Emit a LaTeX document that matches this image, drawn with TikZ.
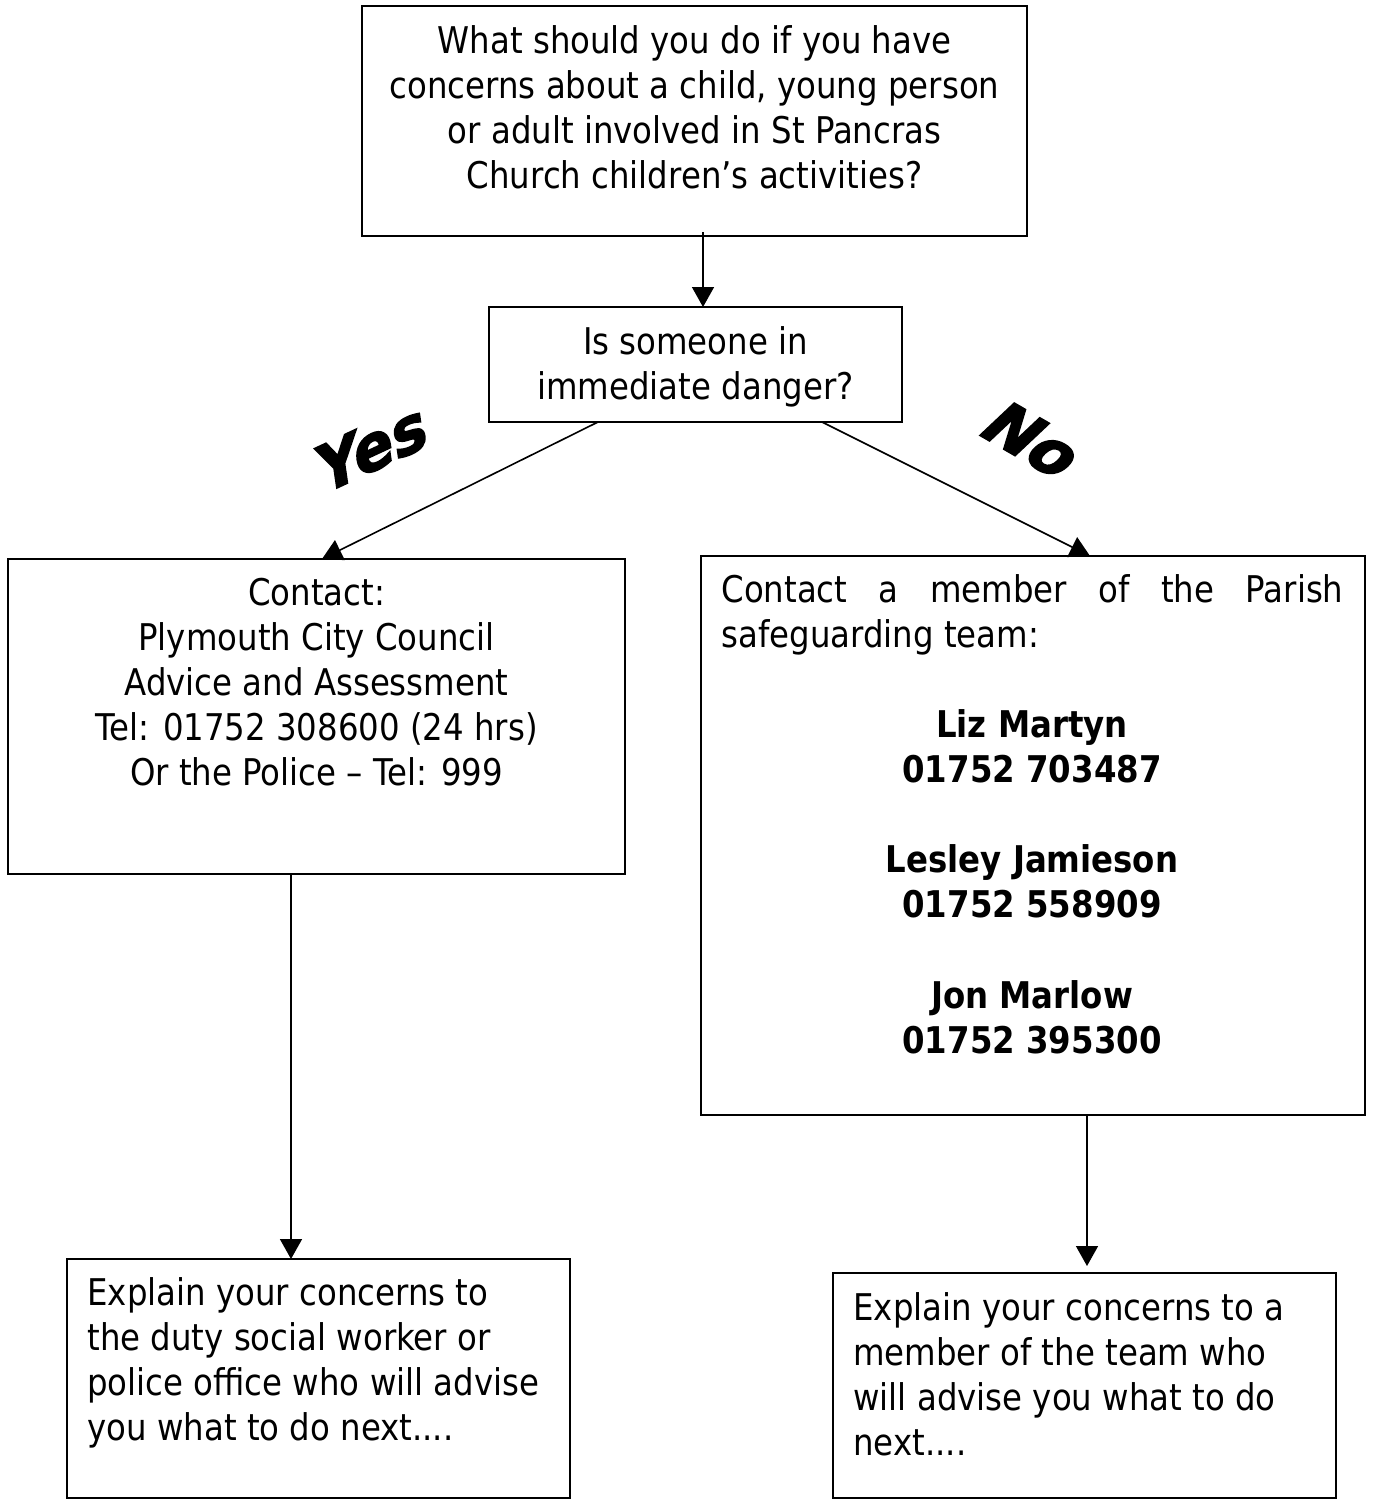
\documentclass[tikz,border=0pt]{standalone}
\usepackage{fontspec}
\setmainfont[FakeStretch=0.88]{DejaVu Sans}
\newfontfamily\wordart[FakeSlant=0.3,FakeBold=2.5]{DejaVu Sans}
\usetikzlibrary{arrows.meta}
\begin{document}
\begin{tikzpicture}[x=0.5pt,y=-0.5pt,
  boxwh/.style 2 args={draw, line width=0.9pt, inner sep=0pt, outer sep=0pt, anchor=north west,
     minimum width=#1*0.5pt, minimum height=#2*0.5pt},
  txt/.style={inner sep=0pt, font=\fontsize{18.4}{22.5}\selectfont},
  bold/.style={txt, font=\fontsize{18.4}{22.5}\selectfont\bfseries, align=center, anchor=north},
  arr/.style={line width=0.8pt, -{Triangle[width=11pt,length=10pt]}},
  wa/.style={inner sep=0pt, font=\wordart\bfseries\fontsize{31}{31}\selectfont}]
\useasboundingbox (0,0) rectangle (1373,1504);
% boxes
\node[boxwh={665}{230}] (top) at (362,6) {};
\node[boxwh={413}{115}] (q2) at (489,307) {};
\node[boxwh={617}{315}] (yesb) at (8,559) {};
\node[boxwh={664}{559}] (nob) at (701,556) {};
\node[boxwh={503}{239}] (ex1) at (67,1259) {};
\node[boxwh={503}{225}] (ex2) at (833,1273) {};
% texts
\node[txt, align=center, anchor=north] (ttop) at (694.5,25)
  {What should you do if you have\\concerns about a child, young person\\or adult involved in St Pancras\\Church children’s activities?};
\node[txt, align=center, anchor=north] (tq2) at (695.5,326)
  {Is someone in\\immediate danger?};
\node[txt, align=center, anchor=north] (tyes) at (316.5,578)
  {Contact:\\Plymouth City Council\\Advice and Assessment\\Tel: 01752 308600 (24 hrs)\\Or the Police – Tel: 999};
\node[txt, align=justify, text width=311pt, anchor=north west] (tno) at (721,574)
  {Contact a member of the Parish \mbox{safeguarding} team:};
\node[bold] (n1) at (1032,709) {Liz Martyn\\01752 703487};
\node[bold] (n2) at (1032,844) {Lesley Jamieson\\01752 558909};
\node[bold] (n3) at (1032,980) {Jon Marlow\\01752 395300};
\node[txt, align=left, anchor=north west] (tex1) at (87,1277)
  {Explain your concerns to\\the duty social worker or\\police office who will advise\\you what to do next....};
\node[txt, align=left, anchor=north west] (tex2) at (853,1292)
  {Explain your concerns to a\\member of the team who\\will advise you what to do\\next....};
% labels
\node[wa, rotate=25] (yes) at (366,450) {Yes};
\node[wa, rotate=-30] (no) at (1027,437) {No};
% connectors
\draw[arr] ([xshift=4.25pt,yshift=2pt]top.south) -- ([xshift=3.75pt]q2.north);
\draw[arr] ([xshift=-48.75pt]q2.south) -- ([xshift=2.75pt]yesb.north);
\draw[arr] ([xshift=63.25pt]q2.south) -- ([xshift=28.5pt]nob.north);
\draw[arr] ([xshift=-12.75pt]yesb.south) -- ([xshift=-12.75pt]yesb.south |- ex1.north);
\draw[arr] ([xshift=27pt]nob.south) -- ([xshift=27pt,yshift=3.5pt]nob.south |- ex2.north);
\end{tikzpicture}
\end{document}
